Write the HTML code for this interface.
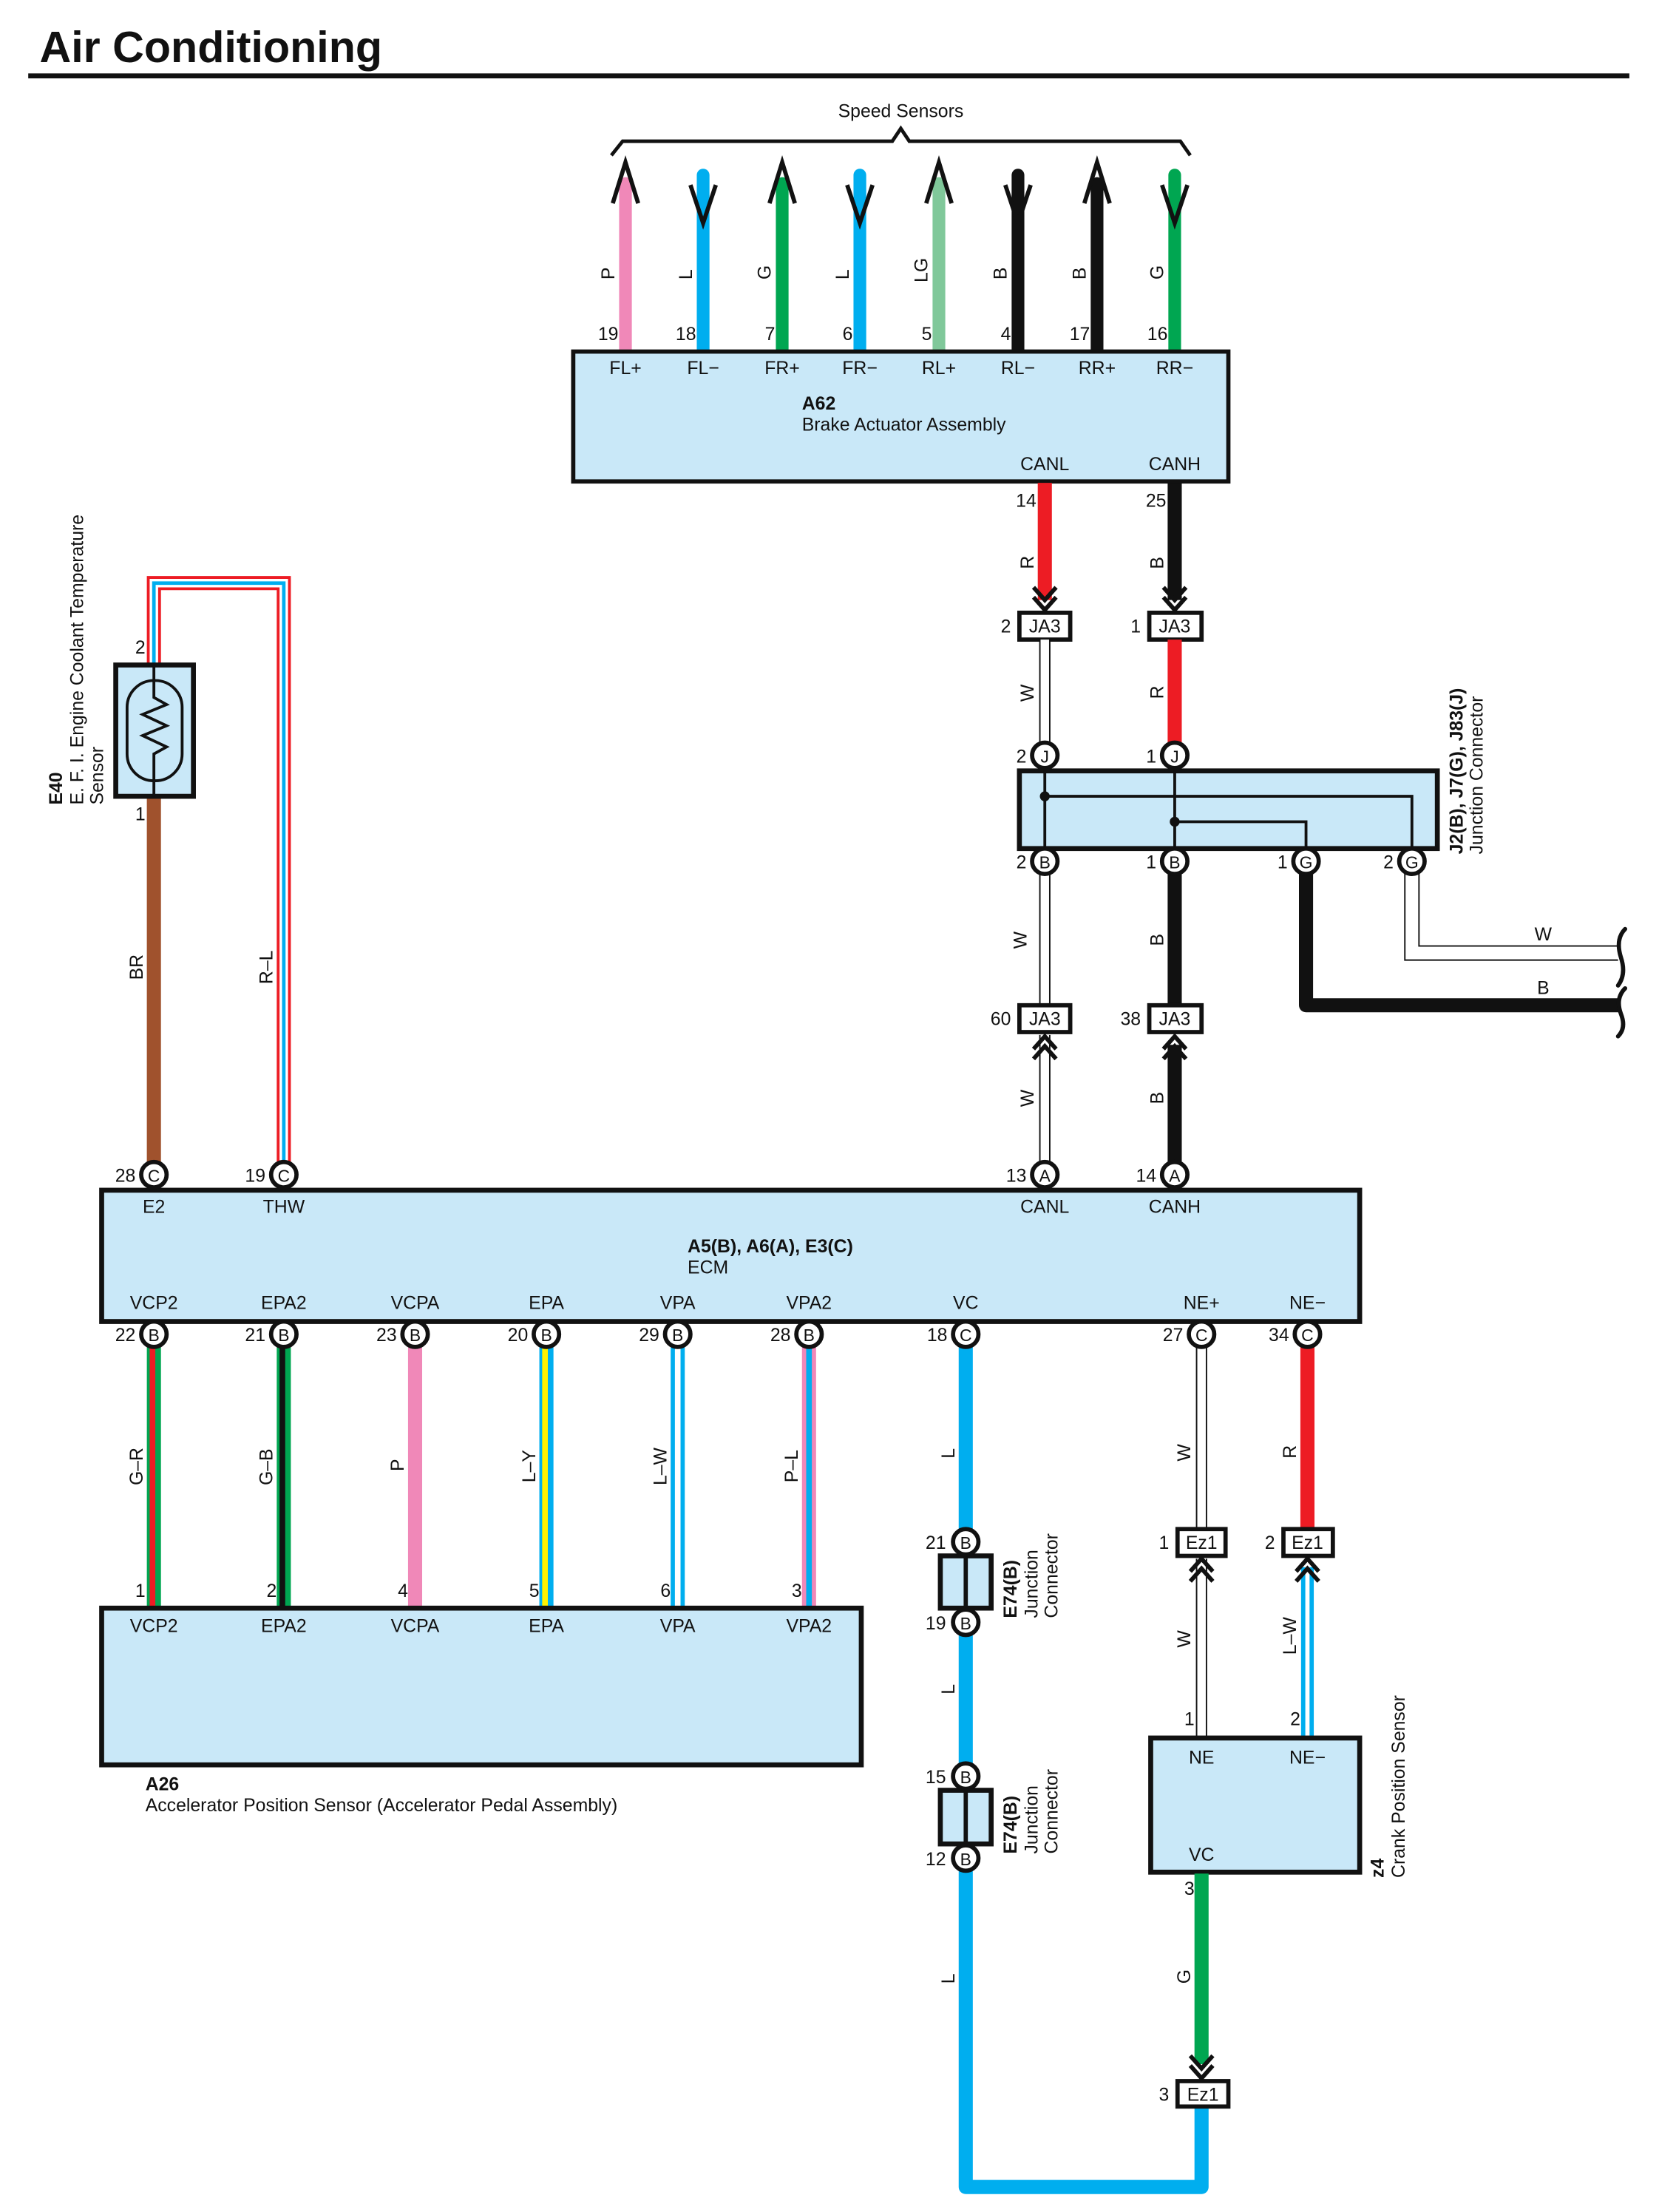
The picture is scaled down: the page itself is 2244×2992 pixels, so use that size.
<!DOCTYPE html>
<html><head><meta charset="utf-8">
<style>
html,body{margin:0;padding:0;background:#fff;}
svg{display:block;}
text{font-family:"Liberation Sans",sans-serif;fill:#111;}
.t{font-size:13px;}
.s{font-size:12px;}
.b{font-weight:bold;}
.m{text-anchor:middle;}
.e{text-anchor:end;}
</style></head><body>
<svg width="2244" height="2992" viewBox="0 0 1175 1566.7" preserveAspectRatio="none" xmlns="http://www.w3.org/2000/svg">
<defs>
<g id="dd"><path d="M-8,-16 L0,-7 L8,-16 M-8,-9 L0,0 L8,-9" fill="none" stroke="#111" stroke-width="3"/></g>
<g id="du"><path d="M-8,16 L0,7 L8,16 M-8,9 L0,0 L8,9" fill="none" stroke="#111" stroke-width="3"/></g>
</defs>
<rect width="1175" height="1566.7" fill="#fff"/>
<text x="28" y="44" class="b" style="font-size:31px">Air Conditioning</text>
<rect x="20" y="52" width="1134" height="3.5" fill="#111"/>

<!-- Speed sensors brace -->
<text x="638" y="83" class="t m">Speed Sensors</text>
<path d="M433,110 L441,100 L632,100 L638,91 L644,100 L836,100 L843,110" fill="none" stroke="#111" stroke-width="2.5"/>

<!-- top wires -->
<g stroke-width="9" stroke-linecap="round">
<line x1="443" y1="130" x2="443" y2="248" stroke="#f088b8"/>
<line x1="498" y1="124" x2="498" y2="248" stroke="#00aeef"/>
<line x1="554" y1="130" x2="554" y2="248" stroke="#00a651"/>
<line x1="609" y1="124" x2="609" y2="248" stroke="#00aeef"/>
<line x1="665" y1="130" x2="665" y2="248" stroke="#80c89a"/>
<line x1="721" y1="124" x2="721" y2="248" stroke="#111"/>
<line x1="777" y1="130" x2="777" y2="248" stroke="#111"/>
<line x1="832" y1="124" x2="832" y2="248" stroke="#00a651"/>
</g>
<g fill="none" stroke="#111" stroke-width="3">
<path d="M434,144 L443,115 L452,144"/>
<path d="M545,144 L554,115 L563,144"/>
<path d="M656,144 L665,115 L674,144"/>
<path d="M768,144 L777,115 L786,144"/>
<path d="M489,131 L498,158 L507,131"/>
<path d="M600,131 L609,158 L618,131"/>
<path d="M712,131 L721,158 L730,131"/>
<path d="M823,131 L832,158 L841,131"/>
</g>
<g class="t">
<text transform="translate(435,198) rotate(-90)">P</text>
<text transform="translate(490,198) rotate(-90)">L</text>
<text transform="translate(546,198) rotate(-90)">G</text>
<text transform="translate(601,198) rotate(-90)">L</text>
<text transform="translate(657,200) rotate(-90)">LG</text>
<text transform="translate(713,198) rotate(-90)">B</text>
<text transform="translate(769,198) rotate(-90)">B</text>
<text transform="translate(824,198) rotate(-90)">G</text>
</g>
<g class="t e">
<text x="438" y="241">19</text><text x="493" y="241">18</text><text x="549" y="241">7</text><text x="604" y="241">6</text>
<text x="660" y="241">5</text><text x="716" y="241">4</text><text x="772" y="241">17</text><text x="827" y="241">16</text>
</g>

<!-- A62 -->
<rect x="406" y="249" width="464" height="92" fill="#c9e8f8" stroke="#111" stroke-width="3"/>
<g class="t m">
<text x="443" y="265">FL+</text><text x="498" y="265">FL−</text><text x="554" y="265">FR+</text><text x="609" y="265">FR−</text>
<text x="665" y="265">RL+</text><text x="721" y="265">RL−</text><text x="777" y="265">RR+</text><text x="832" y="265">RR−</text>
<text x="740" y="333">CANL</text><text x="832" y="333">CANH</text>
</g>
<text x="568" y="290" class="t b">A62</text>
<text x="568" y="305" class="t">Brake Actuator Assembly</text>

<!-- CAN wires upper -->
<line x1="740" y1="342" x2="740" y2="425" stroke="#ed1c24" stroke-width="10"/>
<line x1="832" y1="342" x2="832" y2="425" stroke="#111" stroke-width="10"/>
<text x="734" y="359" class="t e">14</text><text x="826" y="359" class="t e">25</text>
<text transform="translate(732,403) rotate(-90)" class="t">R</text>
<text transform="translate(824,403) rotate(-90)" class="t">B</text>
<use href="#dd" x="740" y="432"/><use href="#dd" x="832" y="432"/>
<rect x="722" y="434" width="36" height="19" fill="#fff" stroke="#111" stroke-width="3"/>
<rect x="814" y="434" width="37" height="19" fill="#fff" stroke="#111" stroke-width="3"/>
<text x="740" y="448" class="t m">JA3</text><text x="832" y="448" class="t m">JA3</text>
<text x="716" y="448" class="t e">2</text><text x="808" y="448" class="t e">1</text>

<line x1="740" y1="453" x2="740" y2="527" stroke="#111" stroke-width="8"/>
<line x1="740" y1="453" x2="740" y2="527" stroke="#fff" stroke-width="6"/>
<line x1="832" y1="453" x2="832" y2="527" stroke="#ed1c24" stroke-width="10"/>
<text transform="translate(732,497) rotate(-90)" class="t">W</text>
<text transform="translate(824,495) rotate(-90)" class="t">R</text>

<!-- Junction J -->
<rect x="722" y="546" width="296" height="55" fill="#c9e8f8" stroke="#111" stroke-width="3.5"/>
<g fill="none" stroke="#111" stroke-width="2">
<line x1="740" y1="546" x2="740" y2="601"/>
<path d="M740,564 L1000,564 L1000,601"/>
<line x1="832" y1="546" x2="832" y2="601"/>
<path d="M832,582 L925,582 L925,601"/>
</g>
<circle cx="740" cy="564" r="3.5" fill="#111"/><circle cx="832" cy="582" r="3.5" fill="#111"/>

<!-- below J -->
<line x1="740" y1="619" x2="740" y2="712" stroke="#111" stroke-width="8"/>
<line x1="740" y1="619" x2="740" y2="712" stroke="#fff" stroke-width="6"/>
<line x1="832" y1="619" x2="832" y2="712" stroke="#111" stroke-width="10"/>
<path d="M925,619 L925,712 L1148,712" fill="none" stroke="#111" stroke-width="10" stroke-linejoin="round"/>
<path d="M995,618 L995,680 L1146,680 M1005,618 L1005,670 L1146,670" fill="none" stroke="#111" stroke-width="1"/>
<text x="1093" y="666" class="t m">W</text><text x="1093" y="704" class="t m">B</text>
<path d="M1151,658 Q1144,665 1148,678 Q1152,690 1146,698 M1151,700 Q1144,707 1148,718 Q1152,728 1146,734" fill="none" stroke="#111" stroke-width="3" stroke-linecap="round"/>
<text transform="translate(727,672) rotate(-90)" class="t">W</text>
<text transform="translate(824,670) rotate(-90)" class="t">B</text>

<g fill="#fff" stroke="#111" stroke-width="3">
<circle cx="740" cy="535" r="9"/><circle cx="832" cy="535" r="9"/>
<circle cx="740" cy="610" r="9"/><circle cx="832" cy="610" r="9"/>
<circle cx="925" cy="610" r="9"/><circle cx="1000" cy="610" r="9"/>
</g>
<g class="s m">
<text x="740" y="540">J</text><text x="832" y="540">J</text>
<text x="740" y="615">B</text><text x="832" y="615">B</text><text x="925" y="615">G</text><text x="1000" y="615">G</text>
</g>
<g class="t e">
<text x="727" y="540">2</text><text x="819" y="540">1</text>
<text x="727" y="615">2</text><text x="819" y="615">1</text><text x="912" y="615">1</text><text x="987" y="615">2</text>
</g>
<text transform="translate(1036,605) rotate(-90)" class="t b">J2(B), J7(G), J83(J)</text>
<text transform="translate(1050,605) rotate(-90)" class="t">Junction Connector</text>

<!-- JA3 lower -->
<rect x="722" y="712" width="36" height="19" fill="#fff" stroke="#111" stroke-width="3"/>
<rect x="814" y="712" width="37" height="19" fill="#fff" stroke="#111" stroke-width="3"/>
<text x="740" y="726" class="t m">JA3</text><text x="832" y="726" class="t m">JA3</text>
<text x="716" y="726" class="t e">60</text><text x="808" y="726" class="t e">38</text>
<line x1="740" y1="733" x2="740" y2="823" stroke="#111" stroke-width="8"/>
<line x1="740" y1="733" x2="740" y2="823" stroke="#fff" stroke-width="6"/>
<line x1="832" y1="740" x2="832" y2="823" stroke="#111" stroke-width="10"/>
<use href="#du" x="740" y="734"/><use href="#du" x="832" y="734"/>
<text transform="translate(732,784) rotate(-90)" class="t">W</text>
<text transform="translate(824,782) rotate(-90)" class="t">B</text>

<!-- E40 -->
<line x1="109" y1="564" x2="109" y2="823" stroke="#a0522d" stroke-width="10"/>
<path d="M109,471 L109,413 L201,413 L201,823" fill="none" stroke="#ed1c24" stroke-width="10"/>
<path d="M109,471 L109,413 L201,413 L201,823" fill="none" stroke="#fff" stroke-width="6"/>
<path d="M109,471 L109,413 L201,413 L201,823" fill="none" stroke="#00aeef" stroke-width="2.5"/>
<rect x="82" y="471" width="55" height="93" fill="#c9e8f8" stroke="#111" stroke-width="3.5"/>
<rect x="90" y="482" width="39" height="71" rx="19" fill="none" stroke="#111" stroke-width="2"/>
<path d="M109,471 L109,494 L118,499 L101,506 L118,514 L101,521 L118,529 L109,534 L109,564" fill="none" stroke="#111" stroke-width="2"/>
<text x="103" y="463" class="t e">2</text><text x="103" y="581" class="t e">1</text>
<text transform="translate(101,694) rotate(-90)" class="t">BR</text>
<text transform="translate(193,697) rotate(-90)" class="t">R–L</text>
<text transform="translate(44,570) rotate(-90)" class="t b">E40</text>
<text transform="translate(59,570) rotate(-90)" class="t">E. F. I.  Engine Coolant Temperature</text>
<text transform="translate(73,570) rotate(-90)" class="t">Sensor</text>

<!-- ECM -->
<rect x="72" y="843" width="891" height="93" fill="#c9e8f8" stroke="#111" stroke-width="3.5"/>
<g class="t m">
<text x="109" y="859">E2</text><text x="201" y="859">THW</text><text x="740" y="859">CANL</text><text x="832" y="859">CANH</text>
<text x="109" y="927">VCP2</text><text x="201" y="927">EPA2</text><text x="294" y="927">VCPA</text><text x="387" y="927">EPA</text>
<text x="480" y="927">VPA</text><text x="573" y="927">VPA2</text><text x="684" y="927">VC</text><text x="851" y="927">NE+</text><text x="926" y="927">NE−</text>
</g>
<text x="487" y="887" class="t b">A5(B), A6(A), E3(C)</text>
<text x="487" y="902" class="t">ECM</text>

<!-- ECM lower wires to A26 -->
<g stroke-width="10">
<line x1="109" y1="950" x2="109" y2="1139" stroke="#00a651"/>
<line x1="201" y1="950" x2="201" y2="1139" stroke="#00a651"/>
<line x1="294" y1="950" x2="294" y2="1139" stroke="#f088b8"/>
<line x1="387" y1="950" x2="387" y2="1139" stroke="#00aeef"/>
<line x1="480" y1="950" x2="480" y2="1139" stroke="#00aeef"/>
<line x1="573" y1="950" x2="573" y2="1139" stroke="#f088b8"/>
</g>
<g stroke-width="4">
<line x1="108" y1="950" x2="108" y2="1139" stroke="#ed1c24"/>
<line x1="200" y1="950" x2="200" y2="1139" stroke="#111"/>
<line x1="386" y1="950" x2="386" y2="1139" stroke="#fff200"/>
<line x1="480" y1="950" x2="480" y2="1139" stroke="#fff"/>
<line x1="573" y1="950" x2="573" y2="1139" stroke="#00aeef"/>
</g>
<g class="t">
<text transform="translate(101,1052) rotate(-90)">G–R</text>
<text transform="translate(193,1052) rotate(-90)">G–B</text>
<text transform="translate(286,1042) rotate(-90)">P</text>
<text transform="translate(379,1050) rotate(-90)">L–Y</text>
<text transform="translate(472,1052) rotate(-90)">L–W</text>
<text transform="translate(565,1050) rotate(-90)">P–L</text>
</g>
<g class="t e">
<text x="103" y="1131">1</text><text x="196" y="1131">2</text><text x="289" y="1131">4</text>
<text x="382" y="1131">5</text><text x="475" y="1131">6</text><text x="568" y="1131">3</text>
</g>
<rect x="72" y="1139" width="538" height="111" fill="#c9e8f8" stroke="#111" stroke-width="3.5"/>
<g class="t m">
<text x="109" y="1156">VCP2</text><text x="201" y="1156">EPA2</text><text x="294" y="1156">VCPA</text>
<text x="387" y="1156">EPA</text><text x="480" y="1156">VPA</text><text x="573" y="1156">VPA2</text>
</g>
<text x="103" y="1268" class="t b">A26</text>
<text x="103" y="1283" class="t">Accelerator Position Sensor (Accelerator Pedal Assembly)</text>

<!-- VC wire -->
<path d="M684,950 L684,1549 L851,1549 L851,1492" fill="none" stroke="#00aeef" stroke-width="10" stroke-linejoin="round"/>
<rect x="666" y="1102" width="36" height="37" fill="#c9e8f8" stroke="#111" stroke-width="3.5"/>
<line x1="684" y1="1102" x2="684" y2="1139" stroke="#111" stroke-width="3"/>
<rect x="666" y="1268" width="36" height="38" fill="#c9e8f8" stroke="#111" stroke-width="3.5"/>
<line x1="684" y1="1268" x2="684" y2="1306" stroke="#111" stroke-width="3"/>
<text transform="translate(676,1033) rotate(-90)" class="t">L</text>
<text transform="translate(676,1200) rotate(-90)" class="t">L</text>
<text transform="translate(676,1405) rotate(-90)" class="t">L</text>
<text x="670" y="1097" class="t e">21</text><text x="670" y="1154" class="t e">19</text>
<text x="670" y="1263" class="t e">15</text><text x="670" y="1321" class="t e">12</text>
<text transform="translate(720,1146) rotate(-90)" class="t b">E74(B)</text>
<text transform="translate(735,1146) rotate(-90)" class="t">Junction</text>
<text transform="translate(749,1146) rotate(-90)" class="t">Connector</text>
<text transform="translate(720,1313) rotate(-90)" class="t b">E74(B)</text>
<text transform="translate(735,1313) rotate(-90)" class="t">Junction</text>
<text transform="translate(749,1313) rotate(-90)" class="t">Connector</text>

<!-- NE wires -->
<line x1="851" y1="950" x2="851" y2="1083" stroke="#111" stroke-width="8"/>
<line x1="851" y1="950" x2="851" y2="1083" stroke="#fff" stroke-width="6"/>
<line x1="926" y1="950" x2="926" y2="1083" stroke="#ed1c24" stroke-width="10"/>
<text transform="translate(843,1035) rotate(-90)" class="t">W</text>
<text transform="translate(918,1033) rotate(-90)" class="t">R</text>
<rect x="834" y="1083" width="34" height="19" fill="#fff" stroke="#111" stroke-width="3"/>
<rect x="909" y="1083" width="35" height="19" fill="#fff" stroke="#111" stroke-width="3"/>
<text x="851" y="1097" class="t m">Ez1</text><text x="926" y="1097" class="t m">Ez1</text>
<text x="828" y="1097" class="t e">1</text><text x="903" y="1097" class="t e">2</text>
<line x1="851" y1="1104" x2="851" y2="1231" stroke="#111" stroke-width="8"/>
<line x1="851" y1="1104" x2="851" y2="1231" stroke="#fff" stroke-width="6"/>
<line x1="926" y1="1110" x2="926" y2="1231" stroke="#00aeef" stroke-width="9"/>
<line x1="926" y1="1110" x2="926" y2="1231" stroke="#fff" stroke-width="3"/>
<use href="#du" x="851" y="1104"/><use href="#du" x="926" y="1104"/>
<text transform="translate(843,1167) rotate(-90)" class="t">W</text>
<text transform="translate(918,1172) rotate(-90)" class="t">L–W</text>
<text x="846" y="1222" class="t e">1</text><text x="921" y="1222" class="t e">2</text>

<!-- z4 -->
<rect x="815" y="1231" width="148" height="95" fill="#c9e8f8" stroke="#111" stroke-width="3.5"/>
<text x="851" y="1249" class="t m">NE</text><text x="926" y="1249" class="t m">NE−</text><text x="851" y="1318" class="t m">VC</text>
<text transform="translate(980,1330) rotate(-90)" class="t b">z4</text>
<text transform="translate(995,1330) rotate(-90)" class="t">Crank Position Sensor</text>
<line x1="851" y1="1327" x2="851" y2="1462" stroke="#00a651" stroke-width="10"/>
<text x="846" y="1342" class="t e">3</text>
<text transform="translate(843,1405) rotate(-90)" class="t">G</text>
<use href="#dd" x="851" y="1472"/>
<rect x="834" y="1474" width="36" height="18" fill="#fff" stroke="#111" stroke-width="3"/>
<text x="852" y="1488" class="t m">Ez1</text><text x="828" y="1488" class="t e">3</text>

<!-- ECM pins -->
<g fill="#fff" stroke="#111" stroke-width="3">
<circle cx="109" cy="832" r="9"/><circle cx="201" cy="832" r="9"/><circle cx="740" cy="832" r="9"/><circle cx="832" cy="832" r="9"/>
<circle cx="109" cy="945" r="9"/><circle cx="201" cy="945" r="9"/><circle cx="294" cy="945" r="9"/><circle cx="387" cy="945" r="9"/>
<circle cx="480" cy="945" r="9"/><circle cx="573" cy="945" r="9"/><circle cx="684" cy="945" r="9"/><circle cx="851" cy="945" r="9"/><circle cx="926" cy="945" r="9"/>
<circle cx="684" cy="1092" r="9"/><circle cx="684" cy="1149" r="9"/><circle cx="684" cy="1258" r="9"/><circle cx="684" cy="1316" r="9"/>
</g>
<g class="s m">
<text x="109" y="837">C</text><text x="201" y="837">C</text><text x="740" y="837">A</text><text x="832" y="837">A</text>
<text x="109" y="950">B</text><text x="201" y="950">B</text><text x="294" y="950">B</text><text x="387" y="950">B</text>
<text x="480" y="950">B</text><text x="573" y="950">B</text><text x="684" y="950">C</text><text x="851" y="950">C</text><text x="926" y="950">C</text>
<text x="684" y="1097">B</text><text x="684" y="1154">B</text><text x="684" y="1263">B</text><text x="684" y="1321">B</text>
</g>
<g class="t e">
<text x="96" y="837">28</text><text x="188" y="837">19</text><text x="727" y="837">13</text><text x="819" y="837">14</text>
<text x="96" y="950">22</text><text x="188" y="950">21</text><text x="281" y="950">23</text><text x="374" y="950">20</text>
<text x="467" y="950">29</text><text x="560" y="950">28</text><text x="671" y="950">18</text><text x="838" y="950">27</text><text x="913" y="950">34</text>
</g>
</svg>
</body></html>
